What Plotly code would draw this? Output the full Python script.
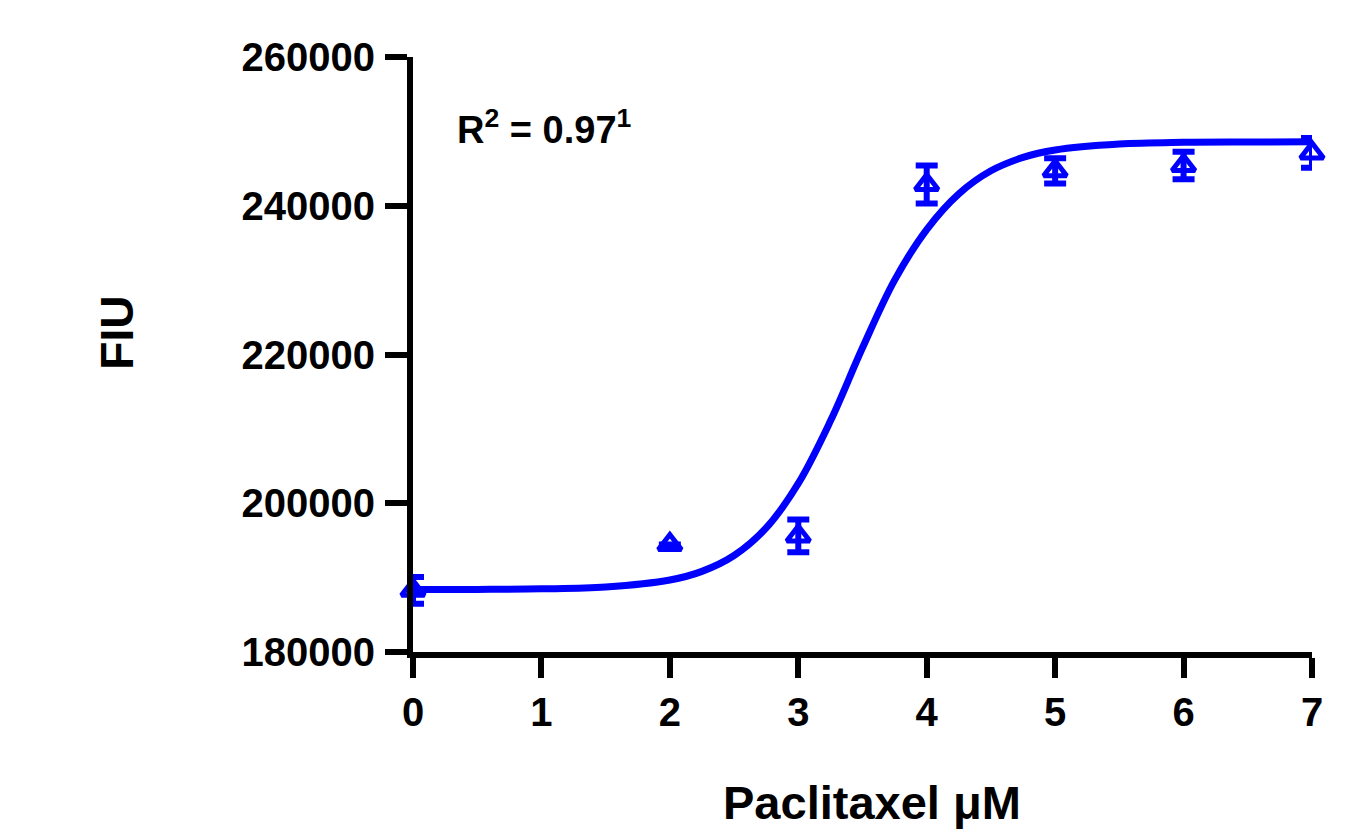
import plotly.graph_objects as go

# Measured data (mean ± error)
conc = [0, 2, 3, 4, 5, 6, 7]
fiu_mean = [188300, 194450, 195600, 242850, 244700, 245400, 247100]
fiu_err = [1800, None, 2200, 2550, 1700, 1850, 2000]

# Fitted sigmoid curve
curve_x = [0, 0.5, 1, 1.5, 2, 2.25, 2.5, 2.75, 3, 3.25, 3.5, 3.75, 4, 4.25, 4.5, 4.75, 5, 5.5, 6, 6.5, 7]
curve_y = [188400, 188420, 188490, 188740, 189680, 190840, 192970, 196680, 202670, 211050,
           220900, 230000, 236800, 241600, 244700, 246500, 247500, 248300, 248530, 248580, 248600]

x_ticks = [0, 1, 2, 3, 4, 5, 6, 7]
y_ticks = [180000, 200000, 220000, 240000, 260000]

BLUE = "#0000ff"
FONT = "Liberation Sans, Arial, sans-serif"

fig = go.Figure()
fig.add_trace(go.Scatter(
    x=curve_x, y=curve_y, mode="lines", line=dict(color=BLUE, width=7, shape="spline"),
    showlegend=False, hoverinfo="skip"))
fig.add_trace(go.Scatter(
    x=conc, y=fiu_mean, mode="markers",
    marker=dict(symbol="triangle-up-open", size=20, color=BLUE, line=dict(color=BLUE, width=5)),
    error_y=dict(type="data", array=fiu_err, visible=True, color=BLUE, thickness=6, width=11),
    showlegend=False, cliponaxis=False))

fig.update_layout(
    width=1349, height=834,
    margin=dict(l=413, r=37, t=57, b=182),
    paper_bgcolor="white", plot_bgcolor="white",
    font=dict(family=FONT, color="black"),
    xaxis=dict(range=[0, 7], tickvals=x_ticks, ticktext=[str(v) for v in x_ticks],
               showgrid=False, zeroline=False, showline=True, linecolor="black", linewidth=6,
               ticks="outside", ticklen=20, tickwidth=6, tickcolor="black",
               tickfont=dict(family=FONT, size=40, color="black", weight="bold")),
    yaxis=dict(range=[180000, 260000], tickvals=y_ticks, ticktext=[str(v) for v in y_ticks],
               showgrid=False, zeroline=False, showline=True, linecolor="black", linewidth=6,
               ticks="outside", ticklen=22, tickwidth=6, tickcolor="black", ticklabelstandoff=2,
               tickfont=dict(family=FONT, size=40, color="black", weight="bold")),
    annotations=[
        dict(text="<b>R<sup>2</sup> = 0.97<sup>1</sup></b>", x=0.33, y=250600, xref="x", yref="y",
             xanchor="left", yanchor="middle", showarrow=False,
             font=dict(family=FONT, size=38, color="black")),
        dict(text="<b>FIU</b>", x=-0.329, y=0.537, xref="paper", yref="paper", textangle=-90,
             xanchor="center", yanchor="middle", showarrow=False,
             font=dict(family=FONT, size=46, color="black")),
        dict(text="<b>Paclitaxel μM</b>", x=0.511, y=-0.2525, xref="paper", yref="paper",
             xanchor="center", yanchor="middle", showarrow=False,
             font=dict(family=FONT, size=47, color="black")),
    ],
)

fig.write_html("out.html")
